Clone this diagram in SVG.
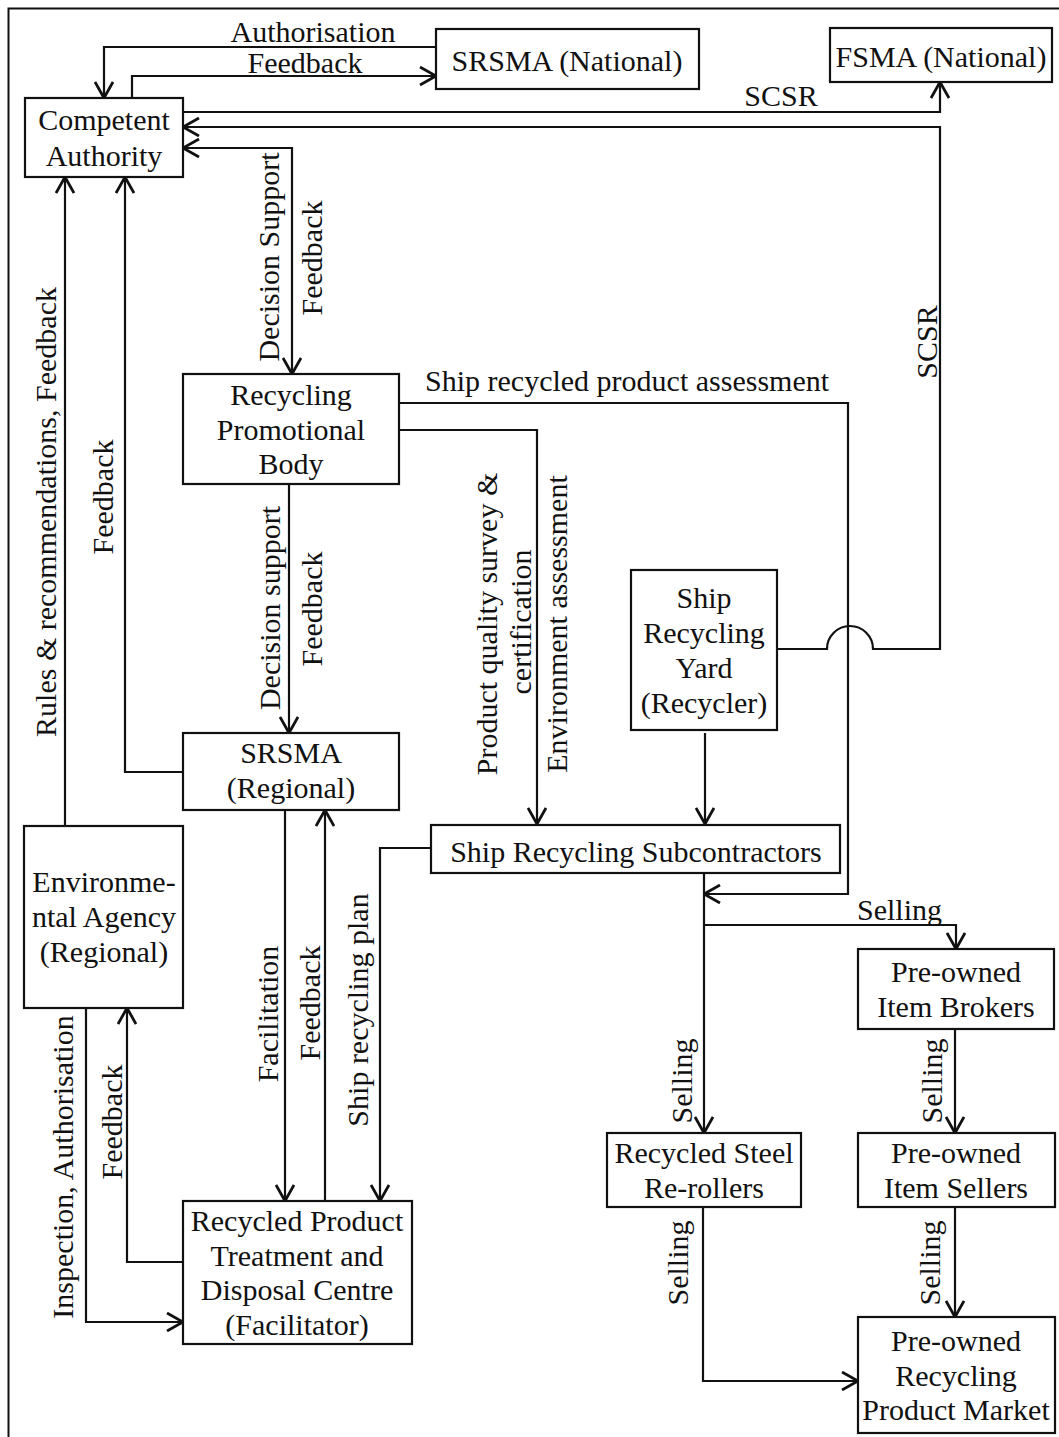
<svg xmlns="http://www.w3.org/2000/svg" width="1059" height="1437" viewBox="0 0 1059 1437">
  <style>
    .box { fill: #fff; stroke: #111; stroke-width: 2.2; }
    .node text, .lbl { font-family: "Liberation Serif", "Times New Roman", serif; font-size: 30px; fill: #111; }
    .node text { text-anchor: middle; }
    .lbl.c { text-anchor: middle; }
    .conn path { fill: none; stroke: #111; stroke-width: 2.2; }
    .arr { marker-end: url(#head); }
    .both { marker-start: url(#head); marker-end: url(#head); }
  </style>
  <defs>
    <marker id="head" viewBox="0 0 18 20" refX="17" refY="10" markerWidth="18" markerHeight="20" markerUnits="userSpaceOnUse" orient="auto-start-reverse">
      <path d="M1,1 L17,10 L1,19" fill="none" stroke="#111" stroke-width="2.8"/>
    </marker>
  </defs>
  <rect width="1059" height="1437" fill="#fff"/>
  <!-- frame -->
  <rect x="8.5" y="8.5" width="1070" height="1450" fill="none" stroke="#111" stroke-width="2"/>

  <g class="conn">
    <path class="arr" d="M436,47 H104 V98"/>
    <path class="arr" d="M132,98 V76 H436"/>
    <path class="arr" d="M183,112 H940 V82"/>
    <path class="arr" d="M777,649 H827 A23,23 0 0 1 873,649 H940 V127 H183"/>
    <path class="both" d="M183,148 H292 V374"/>
    <path class="arr" d="M289,484 V733"/>
    <path class="arr" d="M399,403 H848 V894 H704"/>
    <path class="arr" d="M399,430 H537 V824"/>
    <path class="arr" d="M705,733 V824"/>
    <path class="arr" d="M704,873 V1133"/>
    <path class="arr" d="M704,925 H956 V949"/>
    <path class="arr" d="M955,1029 V1133"/>
    <path class="arr" d="M703,1207 V1381 H858"/>
    <path class="arr" d="M955,1207 V1317"/>
    <path class="arr" d="M65,826 V177"/>
    <path class="arr" d="M183,772 H125 V177"/>
    <path class="arr" d="M285,810 V1201"/>
    <path class="arr" d="M325,1201 V810"/>
    <path class="arr" d="M431,848 H380 V1201"/>
    <path class="arr" d="M183,1262 H127 V1008"/>
    <path class="arr" d="M86,1008 V1322 H183"/>
  </g>

  <g class="labels">
    <text class="lbl c" x="313" y="42">Authorisation</text>
    <text class="lbl c" x="305" y="73">Feedback</text>
    <text class="lbl c" x="781" y="106">SCSR</text>
    <text class="lbl c" transform="translate(937,342) rotate(-90)">SCSR</text>
    <text class="lbl c" transform="translate(279,257) rotate(-90)">Decision Support</text>
    <text class="lbl c" transform="translate(322,258) rotate(-90)">Feedback</text>
    <text class="lbl" x="425" y="391">Ship recycled product assessment</text>
    <text class="lbl c" transform="translate(497,624) rotate(-90)">Product quality survey &amp;</text>
    <text class="lbl c" transform="translate(531,622) rotate(-90)">certification</text>
    <text class="lbl c" transform="translate(567,624) rotate(-90)">Environment assessment</text>
    <text class="lbl c" transform="translate(56,512) rotate(-90)">Rules &amp; recommendations, Feedback</text>
    <text class="lbl c" transform="translate(113,497) rotate(-90)">Feedback</text>
    <text class="lbl c" transform="translate(280,608) rotate(-90)">Decision support</text>
    <text class="lbl c" transform="translate(322,609) rotate(-90)">Feedback</text>
    <text class="lbl c" transform="translate(278,1014) rotate(-90)">Facilitation</text>
    <text class="lbl c" transform="translate(320,1003) rotate(-90)">Feedback</text>
    <text class="lbl c" transform="translate(368,1010) rotate(-90)">Ship recycling plan</text>
    <text class="lbl c" transform="translate(122,1122) rotate(-90)">Feedback</text>
    <text class="lbl c" transform="translate(73,1167) rotate(-90)">Inspection, Authorisation</text>
    <text class="lbl" x="857" y="920">Selling</text>
    <text class="lbl c" transform="translate(692,1081) rotate(-90)">Selling</text>
    <text class="lbl c" transform="translate(942,1081) rotate(-90)">Selling</text>
    <text class="lbl c" transform="translate(688,1263) rotate(-90)">Selling</text>
    <text class="lbl c" transform="translate(940,1263) rotate(-90)">Selling</text>
  </g>

  <g id="competent-authority" class="node">
    <rect class="box" x="25" y="98" width="158" height="79"/>
    <text x="104" y="130">Competent</text>
    <text x="104" y="166">Authority</text>
  </g>
  <g id="srsma-national" class="node">
    <rect class="box" x="436" y="29" width="263" height="60"/>
    <text x="567" y="71">SRSMA (National)</text>
  </g>
  <g id="fsma-national" class="node">
    <rect class="box" x="830" y="28" width="222" height="54"/>
    <text x="941" y="67">FSMA (National)</text>
  </g>
  <g id="recycling-promotional-body" class="node">
    <rect class="box" x="183" y="374" width="216" height="110"/>
    <text x="291" y="405">Recycling</text>
    <text x="291" y="440">Promotional</text>
    <text x="291" y="474">Body</text>
  </g>
  <g id="srsma-regional" class="node">
    <rect class="box" x="183" y="733" width="216" height="77"/>
    <text x="291" y="763">SRSMA</text>
    <text x="291" y="798">(Regional)</text>
  </g>
  <g id="environmental-agency" class="node">
    <rect class="box" x="24" y="826" width="159" height="182"/>
    <text x="104" y="892">Environme-</text>
    <text x="104" y="927">ntal Agency</text>
    <text x="104" y="962">(Regional)</text>
  </g>
  <g id="treatment-disposal-centre" class="node">
    <rect class="box" x="183" y="1201" width="229" height="143"/>
    <text x="297" y="1231">Recycled Product</text>
    <text x="297" y="1266">Treatment and</text>
    <text x="297" y="1300">Disposal Centre</text>
    <text x="297" y="1335">(Facilitator)</text>
  </g>
  <g id="ship-recycling-yard" class="node">
    <rect class="box" x="631" y="570" width="146" height="160"/>
    <text x="704" y="608">Ship</text>
    <text x="704" y="643">Recycling</text>
    <text x="704" y="678">Yard</text>
    <text x="704" y="713">(Recycler)</text>
  </g>
  <g id="ship-recycling-subcontractors" class="node">
    <rect class="box" x="431" y="825" width="409" height="48"/>
    <text x="636" y="862">Ship Recycling Subcontractors</text>
  </g>
  <g id="item-brokers" class="node">
    <rect class="box" x="858" y="949" width="196" height="80"/>
    <text x="956" y="982">Pre-owned</text>
    <text x="956" y="1017">Item Brokers</text>
  </g>
  <g id="steel-re-rollers" class="node">
    <rect class="box" x="607" y="1133" width="194" height="74"/>
    <text x="704" y="1163">Recycled Steel</text>
    <text x="704" y="1198">Re-rollers</text>
  </g>
  <g id="item-sellers" class="node">
    <rect class="box" x="858" y="1133" width="197" height="74"/>
    <text x="956" y="1163">Pre-owned</text>
    <text x="956" y="1198">Item Sellers</text>
  </g>
  <g id="product-market" class="node">
    <rect class="box" x="858" y="1317" width="197" height="116"/>
    <text x="956" y="1351">Pre-owned</text>
    <text x="956" y="1386">Recycling</text>
    <text x="956" y="1420">Product Market</text>
  </g>
</svg>
